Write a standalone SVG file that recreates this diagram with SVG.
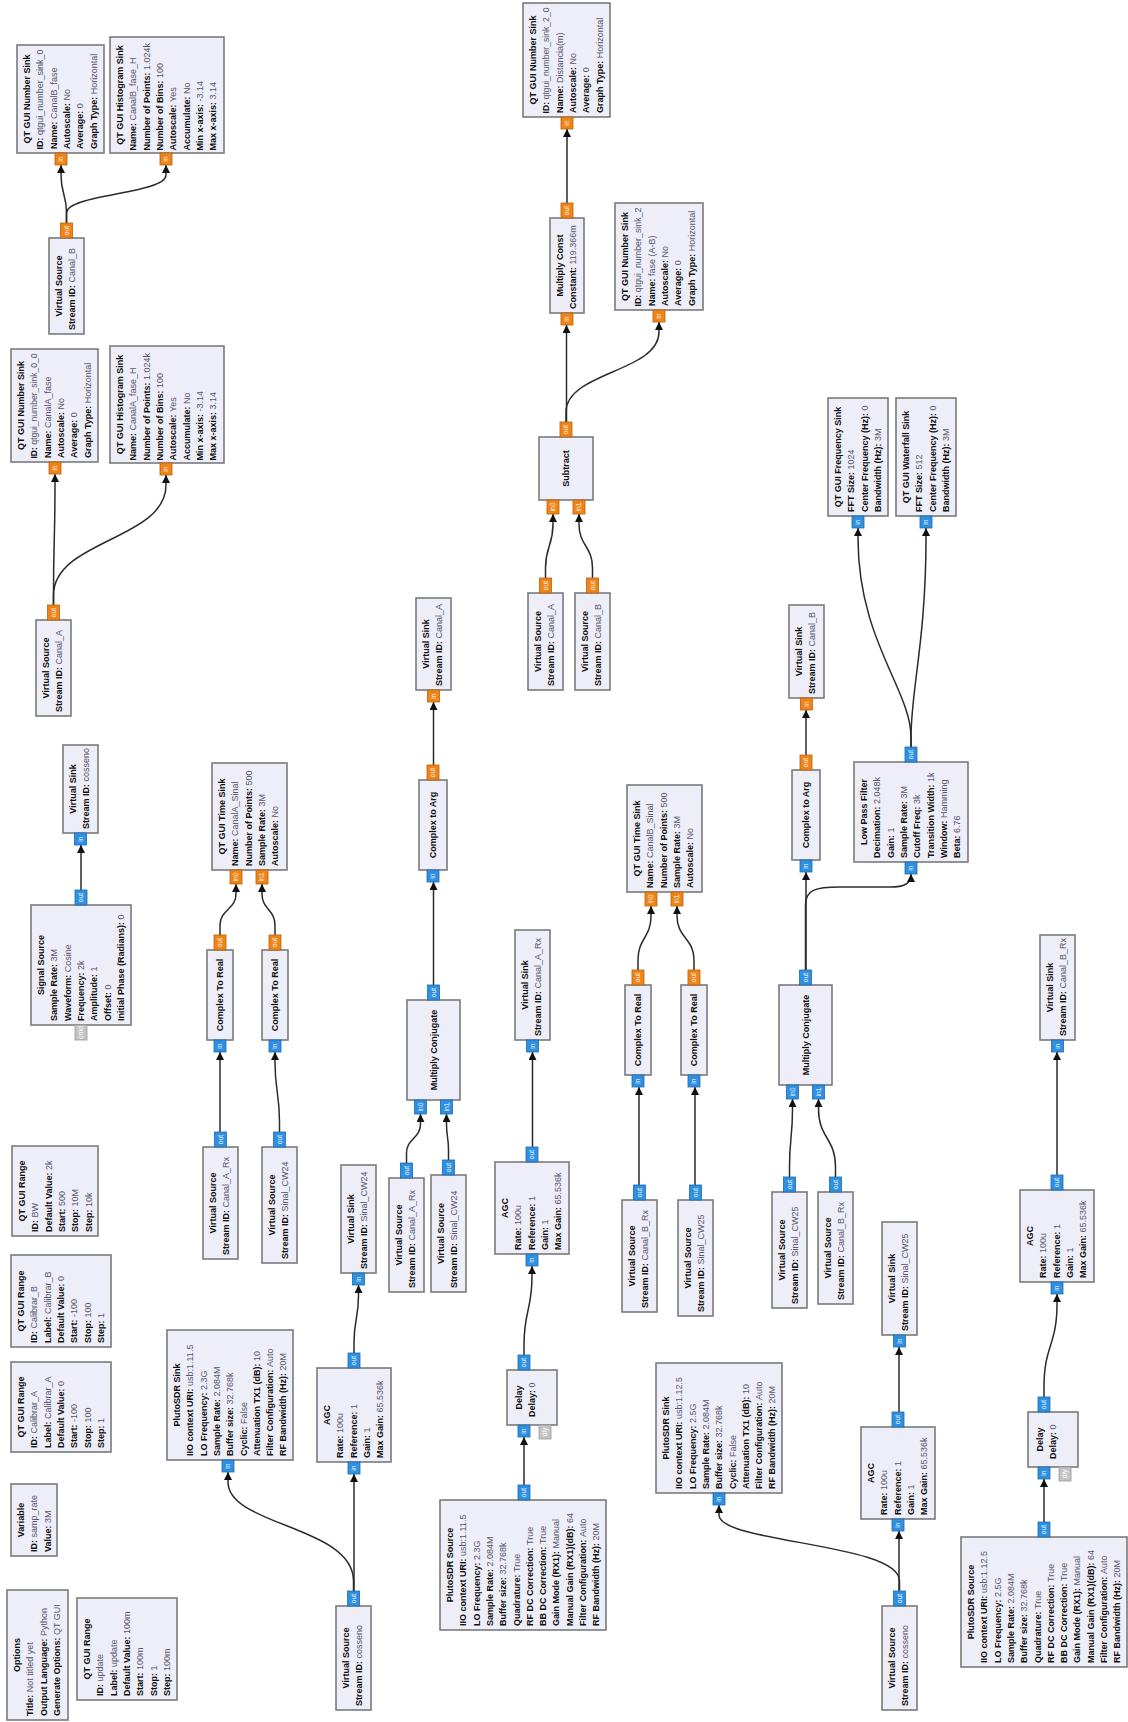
<svg xmlns="http://www.w3.org/2000/svg" width="1128" height="1722" viewBox="0 0 1128 1722">
<style>
.bx{fill:#EEEEF8;stroke:#7a7a7a;stroke-width:1.6}
.t{font-family:"Liberation Sans",Arial,sans-serif;font-size:9px;font-weight:bold;fill:#101010;text-anchor:middle}
.p{font-family:"Liberation Sans",Arial,sans-serif;font-size:9px;font-weight:bold;fill:#101010}
.v{font-weight:normal;fill:#55556e}
.pc{fill:#2F8FE0;stroke:#1d6cb0;stroke-width:0.8}
.pf{fill:#EF8418;stroke:#b8620c;stroke-width:0.8}
.pm{fill:#c4c4c4;stroke:#9a9a9a;stroke-width:0.8}
.pl{font-family:"Liberation Sans",Arial,sans-serif;font-size:6.8px;fill:#ffffff;text-anchor:middle}
.c{fill:none;stroke:#2b2b2b;stroke-width:1.5;marker-end:url(#ah)}
</style>
<defs>
<marker id="ah" viewBox="0 0 10 10" refX="10" refY="5" markerWidth="8" markerHeight="8" markerUnits="userSpaceOnUse" orient="auto"><path d="M0,0 L10,5 L0,10 z" fill="#111"/></marker>
</defs>
<rect width="1128" height="1722" fill="#ffffff"/>
<g id="connectors">
<path class="c" d="M66.5,223 V213 C66.5,194 61,194 61,175 V165"/>
<path class="c" d="M66.5,223 V213 C66.5,194 166,194 166,175 V165"/>
<path class="c" d="M53.5,605 V595 C53.5,540 55,540 55,484 V474"/>
<path class="c" d="M53.5,605 V595 C53.5,540 166,540 166,485 V475"/>
<path class="c" d="M81,890 V845"/>
<path class="c" d="M220,935 V925 C220,909.5 236,909.5 236,894 V884"/>
<path class="c" d="M275,935 V925 C275,909.5 262,909.5 262,894 V884"/>
<path class="c" d="M220,1132 V1052"/>
<path class="c" d="M279.5,1132 V1122 C279.5,1092 275,1092 275,1062 V1052"/>
<path class="c" d="M354,1591 V1474"/>
<path class="c" d="M353.5,1591 V1581 C353.5,1526 228,1526 228,1482 V1472"/>
<path class="c" d="M354,1353 V1343 C354,1319 358.5,1319 358.5,1295 V1285"/>
<path class="c" d="M406.5,1163 V1153 C406.5,1138.5 420.5,1138.5 420.5,1124 V1114"/>
<path class="c" d="M448.5,1160 V1150 C448.5,1137 446.5,1137 446.5,1124 V1114"/>
<path class="c" d="M433.5,985 V882"/>
<path class="c" d="M433.5,765 V702"/>
<path class="c" d="M524,1485 V1437"/>
<path class="c" d="M524,1355 V1345 C524,1310.5 532,1310.5 532,1276 V1266"/>
<path class="c" d="M532.5,1147 V1052"/>
<path class="c" d="M567,203 V129"/>
<path class="c" d="M566.5,422 V325"/>
<path class="c" d="M566,422 V412 C566,372 659,372 659,332 V322"/>
<path class="c" d="M545.5,578 V568 C545.5,546 553,546 553,524 V514"/>
<path class="c" d="M592.5,578 V568 C592.5,546 579,546 579,524 V514"/>
<path class="c" d="M911,747 V737 C911,690 858,640 858,538 V528"/>
<path class="c" d="M911,747 V737 C911,690 926,640 926,538 V528"/>
<path class="c" d="M806,970 V872"/>
<path class="c" d="M805.5,970 V905 C805.5,890 815,887 840,887 L890,887 C904,887 911,884 911,874"/>
<path class="c" d="M806,755 V710"/>
<path class="c" d="M638,970 V960 C638,938 651,938 651,916 V906"/>
<path class="c" d="M694,970 V960 C694,938 677,938 677,916 V906"/>
<path class="c" d="M639,1185 V1087"/>
<path class="c" d="M695,1185 V1087"/>
<path class="c" d="M789.5,1177 V1167 C789.5,1138 792.5,1138 792.5,1109 V1099"/>
<path class="c" d="M835.5,1177 V1167 C835.5,1138 818.5,1138 818.5,1109 V1099"/>
<path class="c" d="M1044,1522 V1479"/>
<path class="c" d="M1044,1397 V1387 C1044,1345.5 1057,1345.5 1057,1304 V1294"/>
<path class="c" d="M1057,1175 V1052"/>
<path class="c" d="M899,1591 V1531"/>
<path class="c" d="M899.5,1591 V1581 C899.5,1543 719,1543 719,1515 V1505"/>
<path class="c" d="M899,1412 V1347"/>
</g>
<g id="blocks">
<g id="ns_b" transform="translate(17,153) rotate(-90)">
<rect class="bx" width="108" height="87"/>
<text class="t" x="54" y="13">QT GUI Number Sink</text>
<text class="p" x="3.5" y="26.3" textLength="100" lengthAdjust="spacingAndGlyphs">ID: <tspan class="v">qtgui_number_sink_0</tspan></text>
<text class="p" x="4" y="39.6">Name: <tspan class="v">CanalB_fase</tspan></text>
<text class="p" x="4" y="52.9">Autoscale: <tspan class="v">No</tspan></text>
<text class="p" x="4" y="66.2">Average: <tspan class="v">0</tspan></text>
<text class="p" x="4" y="79.5">Graph Type: <tspan class="v">Horizontal</tspan></text>
<rect class="pf" x="-12" y="38" width="12" height="12"/><text class="pl" x="-6" y="46.3">in</text>
</g>
<g id="hs_b" transform="translate(110,153) rotate(-90)">
<rect class="bx" width="116" height="114"/>
<text class="t" x="58" y="13">QT GUI Histogram Sink</text>
<text class="p" x="2.5" y="26.3">Name: <tspan class="v">CanalB_fase_H</tspan></text>
<text class="p" x="2.5" y="39.6">Number of Points: <tspan class="v">1.024k</tspan></text>
<text class="p" x="2.5" y="52.9">Number of Bins: <tspan class="v">100</tspan></text>
<text class="p" x="2.5" y="66.2">Autoscale: <tspan class="v">Yes</tspan></text>
<text class="p" x="2.5" y="79.5">Accumulate: <tspan class="v">No</tspan></text>
<text class="p" x="2.5" y="92.8">Min x-axis: <tspan class="v">-3.14</tspan></text>
<text class="p" x="2.5" y="106.1">Max x-axis: <tspan class="v">3.14</tspan></text>
<rect class="pf" x="-12" y="50" width="12" height="12"/><text class="pl" x="-6" y="58.3">in</text>
</g>
<g id="vs_b1" transform="translate(49,334) rotate(-90)">
<rect class="bx" width="96" height="35"/>
<text class="t" x="48" y="13">Virtual Source</text>
<text class="p" x="4" y="26.3">Stream ID: <tspan class="v">Canal_B</tspan></text>
<rect class="pf" x="96" y="11.5" width="15" height="12"/><text class="pl" x="103.5" y="19.8">out</text>
</g>
<g id="ns_a" transform="translate(11,462) rotate(-90)">
<rect class="bx" width="113" height="87"/>
<text class="t" x="56.5" y="13">QT GUI Number Sink</text>
<text class="p" x="3.5" y="26.3" textLength="105" lengthAdjust="spacingAndGlyphs">ID: <tspan class="v">qtgui_number_sink_0_0</tspan></text>
<text class="p" x="4" y="39.6">Name: <tspan class="v">CanalA_fase</tspan></text>
<text class="p" x="4" y="52.9">Autoscale: <tspan class="v">No</tspan></text>
<text class="p" x="4" y="66.2">Average: <tspan class="v">0</tspan></text>
<text class="p" x="4" y="79.5">Graph Type: <tspan class="v">Horizontal</tspan></text>
<rect class="pf" x="-12" y="38" width="12" height="12"/><text class="pl" x="-6" y="46.3">in</text>
</g>
<g id="hs_a" transform="translate(110,463) rotate(-90)">
<rect class="bx" width="117" height="114"/>
<text class="t" x="58.5" y="13">QT GUI Histogram Sink</text>
<text class="p" x="2.5" y="26.3">Name: <tspan class="v">CanalA_fase_H</tspan></text>
<text class="p" x="2.5" y="39.6">Number of Points: <tspan class="v">1.024k</tspan></text>
<text class="p" x="2.5" y="52.9">Number of Bins: <tspan class="v">100</tspan></text>
<text class="p" x="2.5" y="66.2">Autoscale: <tspan class="v">Yes</tspan></text>
<text class="p" x="2.5" y="79.5">Accumulate: <tspan class="v">No</tspan></text>
<text class="p" x="2.5" y="92.8">Min x-axis: <tspan class="v">-3.14</tspan></text>
<text class="p" x="2.5" y="106.1">Max x-axis: <tspan class="v">3.14</tspan></text>
<rect class="pf" x="-12" y="50" width="12" height="12"/><text class="pl" x="-6" y="58.3">in</text>
</g>
<g id="vs_a1" transform="translate(36,716) rotate(-90)">
<rect class="bx" width="96" height="35"/>
<text class="t" x="48" y="13">Virtual Source</text>
<text class="p" x="4" y="26.3">Stream ID: <tspan class="v">Canal_A</tspan></text>
<rect class="pf" x="96" y="11.5" width="15" height="12"/><text class="pl" x="103.5" y="19.8">out</text>
</g>
<g id="vsink_cos" transform="translate(63,833) rotate(-90)">
<rect class="bx" width="88" height="35"/>
<text class="t" x="44" y="13">Virtual Sink</text>
<text class="p" x="4" y="26.3">Stream ID: <tspan class="v">cosseno</tspan></text>
<rect class="pc" x="-12" y="11.5" width="12" height="12"/><text class="pl" x="-6" y="19.8">in</text>
</g>
<g id="sigsrc" transform="translate(31,1025) rotate(-90)">
<rect class="bx" width="120" height="100"/>
<text class="t" x="60" y="13">Signal Source</text>
<text class="p" x="4" y="26.3">Sample Rate: <tspan class="v">3M</tspan></text>
<text class="p" x="4" y="39.6">Waveform: <tspan class="v">Cosine</tspan></text>
<text class="p" x="4" y="52.9">Frequency: <tspan class="v">2k</tspan></text>
<text class="p" x="4" y="66.2">Amplitude: <tspan class="v">1</tspan></text>
<text class="p" x="4" y="79.5">Offset: <tspan class="v">0</tspan></text>
<text class="p" x="4" y="92.8">Initial Phase (Radians): <tspan class="v">0</tspan></text>
<rect class="pc" x="120" y="44" width="15" height="12"/><text class="pl" x="127.5" y="52.3">out</text>
<rect class="pm" x="-15" y="44" width="15" height="12"/><text class="pl" x="-7.5" y="52.3">cmd</text>
</g>
<g id="range_bw" transform="translate(12,1236) rotate(-90)">
<rect class="bx" width="90" height="86"/>
<text class="t" x="45" y="13">QT GUI Range</text>
<text class="p" x="4" y="26.3">ID: <tspan class="v">BW</tspan></text>
<text class="p" x="4" y="39.6">Default Value: <tspan class="v">2k</tspan></text>
<text class="p" x="4" y="52.9">Start: <tspan class="v">500</tspan></text>
<text class="p" x="4" y="66.2">Stop: <tspan class="v">10M</tspan></text>
<text class="p" x="4" y="79.5">Step: <tspan class="v">10k</tspan></text>
</g>
<g id="range_cb" transform="translate(11,1347) rotate(-90)">
<rect class="bx" width="92" height="100"/>
<text class="t" x="46" y="13">QT GUI Range</text>
<text class="p" x="4" y="26.3">ID: <tspan class="v">Calibrar_B</tspan></text>
<text class="p" x="4" y="39.6">Label: <tspan class="v">Calibrar_B</tspan></text>
<text class="p" x="4" y="52.9">Default Value: <tspan class="v">0</tspan></text>
<text class="p" x="4" y="66.2">Start: <tspan class="v">-100</tspan></text>
<text class="p" x="4" y="79.5">Stop: <tspan class="v">100</tspan></text>
<text class="p" x="4" y="92.8">Step: <tspan class="v">1</tspan></text>
</g>
<g id="range_ca" transform="translate(11,1452) rotate(-90)">
<rect class="bx" width="90" height="100"/>
<text class="t" x="45" y="13">QT GUI Range</text>
<text class="p" x="4" y="26.3">ID: <tspan class="v">Calibrar_A</tspan></text>
<text class="p" x="4" y="39.6">Label: <tspan class="v">Calibrar_A</tspan></text>
<text class="p" x="4" y="52.9">Default Value: <tspan class="v">0</tspan></text>
<text class="p" x="4" y="66.2">Start: <tspan class="v">-100</tspan></text>
<text class="p" x="4" y="79.5">Stop: <tspan class="v">100</tspan></text>
<text class="p" x="4" y="92.8">Step: <tspan class="v">1</tspan></text>
</g>
<g id="variable" transform="translate(11,1556) rotate(-90)">
<rect class="bx" width="72" height="46"/>
<text class="t" x="36" y="13">Variable</text>
<text class="p" x="4" y="26.3">ID: <tspan class="v">samp_rate</tspan></text>
<text class="p" x="4" y="39.6">Value: <tspan class="v">3M</tspan></text>
</g>
<g id="options" transform="translate(7,1720) rotate(-90)">
<rect class="bx" width="130" height="61"/>
<text class="t" x="65" y="13">Options</text>
<text class="p" x="4" y="26.3">Title: <tspan class="v">Not titled yet</tspan></text>
<text class="p" x="4" y="39.6">Output Language: <tspan class="v">Python</tspan></text>
<text class="p" x="4" y="52.9">Generate Options: <tspan class="v">QT GUI</tspan></text>
</g>
<g id="range_up" transform="translate(77,1700) rotate(-90)">
<rect class="bx" width="102" height="100"/>
<text class="t" x="51" y="13">QT GUI Range</text>
<text class="p" x="4" y="26.3">ID: <tspan class="v">update</tspan></text>
<text class="p" x="4" y="39.6">Label: <tspan class="v">update</tspan></text>
<text class="p" x="4" y="52.9">Default Value: <tspan class="v">100m</tspan></text>
<text class="p" x="4" y="66.2">Start: <tspan class="v">100m</tspan></text>
<text class="p" x="4" y="79.5">Stop: <tspan class="v">1</tspan></text>
<text class="p" x="4" y="92.8">Step: <tspan class="v">100m</tspan></text>
</g>
<g id="ts_a" transform="translate(212,870) rotate(-90)">
<rect class="bx" width="107" height="75"/>
<text class="t" x="53.5" y="13">QT GUI Time Sink</text>
<text class="p" x="4" y="26.3">Name: <tspan class="v">CanalA_Sinal</tspan></text>
<text class="p" x="4" y="39.6">Number of Points: <tspan class="v">500</tspan></text>
<text class="p" x="4" y="52.9">Sample Rate: <tspan class="v">3M</tspan></text>
<text class="p" x="4" y="66.2">Autoscale: <tspan class="v">No</tspan></text>
<rect class="pf" x="-14" y="18" width="14" height="12"/><text class="pl" x="-7" y="26.3">in0</text>
<rect class="pf" x="-14" y="44" width="14" height="12"/><text class="pl" x="-7" y="52.3">in1</text>
</g>
<g id="ctr_a1" transform="translate(207,1040) rotate(-90)">
<rect class="bx" width="90" height="26"/>
<text class="t" x="45" y="16">Complex To Real</text>
<rect class="pc" x="-12" y="7" width="12" height="12"/><text class="pl" x="-6" y="15.3">in</text>
<rect class="pf" x="90" y="7" width="15" height="12"/><text class="pl" x="97.5" y="15.3">out</text>
</g>
<g id="ctr_a2" transform="translate(262,1040) rotate(-90)">
<rect class="bx" width="90" height="26"/>
<text class="t" x="45" y="16">Complex To Real</text>
<rect class="pc" x="-12" y="7" width="12" height="12"/><text class="pl" x="-6" y="15.3">in</text>
<rect class="pf" x="90" y="7" width="15" height="12"/><text class="pl" x="97.5" y="15.3">out</text>
</g>
<g id="vs_arx1" transform="translate(203,1259) rotate(-90)">
<rect class="bx" width="112" height="35"/>
<text class="t" x="56" y="13">Virtual Source</text>
<text class="p" x="4" y="26.3">Stream ID: <tspan class="v">Canal_A_Rx</tspan></text>
<rect class="pc" x="112" y="11.5" width="15" height="12"/><text class="pl" x="119.5" y="19.8">out</text>
</g>
<g id="vs_cw24_1" transform="translate(262,1263) rotate(-90)">
<rect class="bx" width="116" height="35"/>
<text class="t" x="58" y="13">Virtual Source</text>
<text class="p" x="4" y="26.3">Stream ID: <tspan class="v">Sinal_CW24</tspan></text>
<rect class="pc" x="116" y="11.5" width="15" height="12"/><text class="pl" x="123.5" y="19.8">out</text>
</g>
<g id="pluto_sink_a" transform="translate(167,1460) rotate(-90)">
<rect class="bx" width="130" height="126"/>
<text class="t" x="65" y="13">PlutoSDR Sink</text>
<text class="p" x="4" y="26.3">IIO context URI: <tspan class="v">usb:1.11.5</tspan></text>
<text class="p" x="4" y="39.6">LO Frequency: <tspan class="v">2.3G</tspan></text>
<text class="p" x="4" y="52.9">Sample Rate: <tspan class="v">2.084M</tspan></text>
<text class="p" x="4" y="66.2">Buffer size: <tspan class="v">32.768k</tspan></text>
<text class="p" x="4" y="79.5">Cyclic: <tspan class="v">False</tspan></text>
<text class="p" x="4" y="92.8">Attenuation TX1 (dB): <tspan class="v">10</tspan></text>
<text class="p" x="4" y="106.1">Filter Configuration: <tspan class="v">Auto</tspan></text>
<text class="p" x="4" y="119.4">RF Bandwidth (Hz): <tspan class="v">20M</tspan></text>
<rect class="pc" x="-12" y="55" width="12" height="12"/><text class="pl" x="-6" y="63.3">in</text>
</g>
<g id="vsink_cw24" transform="translate(341,1273) rotate(-90)">
<rect class="bx" width="108" height="35"/>
<text class="t" x="54" y="13">Virtual Sink</text>
<text class="p" x="4" y="26.3">Stream ID: <tspan class="v">Sinal_CW24</tspan></text>
<rect class="pc" x="-12" y="11.5" width="12" height="12"/><text class="pl" x="-6" y="19.8">in</text>
</g>
<g id="agc_a" transform="translate(317,1462) rotate(-90)">
<rect class="bx" width="94" height="74"/>
<text class="t" x="47" y="13">AGC</text>
<text class="p" x="4" y="26.3">Rate: <tspan class="v">100u</tspan></text>
<text class="p" x="4" y="39.6">Reference: <tspan class="v">1</tspan></text>
<text class="p" x="4" y="52.9">Gain: <tspan class="v">1</tspan></text>
<text class="p" x="4" y="66.2">Max Gain: <tspan class="v">65.536k</tspan></text>
<rect class="pc" x="-12" y="31" width="12" height="12"/><text class="pl" x="-6" y="39.3">in</text>
<rect class="pc" x="94" y="31" width="15" height="12"/><text class="pl" x="101.5" y="39.3">out</text>
</g>
<g id="vs_cos_a" transform="translate(336,1710) rotate(-90)">
<rect class="bx" width="104" height="35"/>
<text class="t" x="52" y="13">Virtual Source</text>
<text class="p" x="4" y="26.3">Stream ID: <tspan class="v">cosseno</tspan></text>
<rect class="pc" x="104" y="11.5" width="15" height="12"/><text class="pl" x="111.5" y="19.8">out</text>
</g>
<g id="vs_arx2" transform="translate(389,1292) rotate(-90)">
<rect class="bx" width="114" height="35"/>
<text class="t" x="57" y="13">Virtual Source</text>
<text class="p" x="4" y="26.3">Stream ID: <tspan class="v">Canal_A_Rx</tspan></text>
<rect class="pc" x="114" y="11.5" width="15" height="12"/><text class="pl" x="121.5" y="19.8">out</text>
</g>
<g id="vs_cw24_2" transform="translate(431,1292) rotate(-90)">
<rect class="bx" width="117" height="35"/>
<text class="t" x="58.5" y="13">Virtual Source</text>
<text class="p" x="4" y="26.3">Stream ID: <tspan class="v">Sinal_CW24</tspan></text>
<rect class="pc" x="117" y="11.5" width="15" height="12"/><text class="pl" x="124.5" y="19.8">out</text>
</g>
<g id="mc_a" transform="translate(407,1100) rotate(-90)">
<rect class="bx" width="100" height="53"/>
<text class="t" x="50" y="29.5">Multiply Conjugate</text>
<rect class="pc" x="-14" y="7.5" width="14" height="12"/><text class="pl" x="-7" y="15.8">in0</text>
<rect class="pc" x="-14" y="33.5" width="14" height="12"/><text class="pl" x="-7" y="41.8">in1</text>
<rect class="pc" x="100" y="20.5" width="15" height="12"/><text class="pl" x="107.5" y="28.8">out</text>
</g>
<g id="cta_a" transform="translate(419,870) rotate(-90)">
<rect class="bx" width="90" height="28"/>
<text class="t" x="45" y="17">Complex to Arg</text>
<rect class="pc" x="-12" y="8" width="12" height="12"/><text class="pl" x="-6" y="16.3">in</text>
<rect class="pf" x="90" y="8" width="15" height="12"/><text class="pl" x="97.5" y="16.3">out</text>
</g>
<g id="vsink_a" transform="translate(416,690) rotate(-90)">
<rect class="bx" width="92" height="35"/>
<text class="t" x="46" y="13">Virtual Sink</text>
<text class="p" x="4" y="26.3">Stream ID: <tspan class="v">Canal_A</tspan></text>
<rect class="pf" x="-12" y="11.5" width="12" height="12"/><text class="pl" x="-6" y="19.8">in</text>
</g>
<g id="vsink_arx" transform="translate(515,1040) rotate(-90)">
<rect class="bx" width="110" height="35"/>
<text class="t" x="55" y="13">Virtual Sink</text>
<text class="p" x="4" y="26.3">Stream ID: <tspan class="v">Canal_A_Rx</tspan></text>
<rect class="pc" x="-12" y="11.5" width="12" height="12"/><text class="pl" x="-6" y="19.8">in</text>
</g>
<g id="agc_arx" transform="translate(495,1254) rotate(-90)">
<rect class="bx" width="92" height="74"/>
<text class="t" x="46" y="13">AGC</text>
<text class="p" x="4" y="26.3">Rate: <tspan class="v">100u</tspan></text>
<text class="p" x="4" y="39.6">Reference: <tspan class="v">1</tspan></text>
<text class="p" x="4" y="52.9">Gain: <tspan class="v">1</tspan></text>
<text class="p" x="4" y="66.2">Max Gain: <tspan class="v">65.536k</tspan></text>
<rect class="pc" x="-12" y="31" width="12" height="12"/><text class="pl" x="-6" y="39.3">in</text>
<rect class="pc" x="92" y="31" width="15" height="12"/><text class="pl" x="99.5" y="39.3">out</text>
</g>
<g id="delay_a" transform="translate(507,1425) rotate(-90)">
<rect class="bx" width="55" height="50"/>
<text class="t" x="27.5" y="15">Delay</text>
<text class="p" x="8" y="28">Delay: <tspan class="v">0</tspan></text>
<rect class="pc" x="-12" y="11" width="12" height="12"/><text class="pl" x="-6" y="19.3">in</text>
<rect class="pm" x="-14" y="32" width="14" height="12"/><text class="pl" x="-7" y="40.3">dly</text>
<rect class="pc" x="55" y="11" width="15" height="12"/><text class="pl" x="62.5" y="19.3">out</text>
</g>
<g id="pluto_src_a" transform="translate(440,1630) rotate(-90)">
<rect class="bx" width="130" height="166"/>
<text class="t" x="65" y="13">PlutoSDR Source</text>
<text class="p" x="4" y="26.3">IIO context URI: <tspan class="v">usb:1.11.5</tspan></text>
<text class="p" x="4" y="39.6">LO Frequency: <tspan class="v">2.3G</tspan></text>
<text class="p" x="4" y="52.9">Sample Rate: <tspan class="v">2.084M</tspan></text>
<text class="p" x="4" y="66.2">Buffer size: <tspan class="v">32.768k</tspan></text>
<text class="p" x="4" y="79.5">Quadrature: <tspan class="v">True</tspan></text>
<text class="p" x="4" y="92.8">RF DC Correction: <tspan class="v">True</tspan></text>
<text class="p" x="4" y="106.1">BB DC Correction: <tspan class="v">True</tspan></text>
<text class="p" x="4" y="119.4">Gain Mode (RX1): <tspan class="v">Manual</tspan></text>
<text class="p" x="4" y="132.7">Manual Gain (RX1)(dB): <tspan class="v">64</tspan></text>
<text class="p" x="4" y="146">Filter Configuration: <tspan class="v">Auto</tspan></text>
<text class="p" x="4" y="159.3">RF Bandwidth (Hz): <tspan class="v">20M</tspan></text>
<rect class="pc" x="130" y="78" width="15" height="12"/><text class="pl" x="137.5" y="86.3">out</text>
</g>
<g id="ns_2_0" transform="translate(523,117) rotate(-90)">
<rect class="bx" width="114" height="87"/>
<text class="t" x="57" y="13">QT GUI Number Sink</text>
<text class="p" x="3.5" y="26.3" textLength="106" lengthAdjust="spacingAndGlyphs">ID: <tspan class="v">qtgui_number_sink_2_0</tspan></text>
<text class="p" x="4" y="39.6">Name: <tspan class="v">Distancia(m)</tspan></text>
<text class="p" x="4" y="52.9">Autoscale: <tspan class="v">No</tspan></text>
<text class="p" x="4" y="66.2">Average: <tspan class="v">0</tspan></text>
<text class="p" x="4" y="79.5">Graph Type: <tspan class="v">Horizontal</tspan></text>
<rect class="pf" x="-12" y="38" width="12" height="12"/><text class="pl" x="-6" y="46.3">in</text>
</g>
<g id="mconst" transform="translate(550,313) rotate(-90)">
<rect class="bx" width="95" height="34"/>
<text class="t" x="47.5" y="13">Multiply Const</text>
<text class="p" x="4" y="26.3">Constant: <tspan class="v">119.366m</tspan></text>
<rect class="pf" x="-12" y="11" width="12" height="12"/><text class="pl" x="-6" y="19.3">in</text>
<rect class="pf" x="95" y="11" width="15" height="12"/><text class="pl" x="102.5" y="19.3">out</text>
</g>
<g id="ns_2" transform="translate(615,310) rotate(-90)">
<rect class="bx" width="107" height="88"/>
<text class="t" x="53.5" y="13">QT GUI Number Sink</text>
<text class="p" x="3.5" y="26.3" textLength="99" lengthAdjust="spacingAndGlyphs">ID: <tspan class="v">qtgui_number_sink_2</tspan></text>
<text class="p" x="4" y="39.6">Name: <tspan class="v">fase (A-B)</tspan></text>
<text class="p" x="4" y="52.9">Autoscale: <tspan class="v">No</tspan></text>
<text class="p" x="4" y="66.2">Average: <tspan class="v">0</tspan></text>
<text class="p" x="4" y="79.5">Graph Type: <tspan class="v">Horizontal</tspan></text>
<rect class="pf" x="-12" y="38" width="12" height="12"/><text class="pl" x="-6" y="46.3">in</text>
</g>
<g id="subtract" transform="translate(539,500) rotate(-90)">
<rect class="bx" width="63" height="54"/>
<text class="t" x="31.5" y="30">Subtract</text>
<rect class="pf" x="-14" y="8" width="14" height="12"/><text class="pl" x="-7" y="16.3">in0</text>
<rect class="pf" x="-14" y="34" width="14" height="12"/><text class="pl" x="-7" y="42.3">in1</text>
<rect class="pf" x="63" y="21" width="15" height="12"/><text class="pl" x="70.5" y="29.3">out</text>
</g>
<g id="vs_a2" transform="translate(528,690) rotate(-90)">
<rect class="bx" width="97" height="35"/>
<text class="t" x="48.5" y="13">Virtual Source</text>
<text class="p" x="4" y="26.3">Stream ID: <tspan class="v">Canal_A</tspan></text>
<rect class="pf" x="97" y="11.5" width="15" height="12"/><text class="pl" x="104.5" y="19.8">out</text>
</g>
<g id="vs_b2" transform="translate(575,690) rotate(-90)">
<rect class="bx" width="97" height="35"/>
<text class="t" x="48.5" y="13">Virtual Source</text>
<text class="p" x="4" y="26.3">Stream ID: <tspan class="v">Canal_B</tspan></text>
<rect class="pf" x="97" y="11.5" width="15" height="12"/><text class="pl" x="104.5" y="19.8">out</text>
</g>
<g id="freq" transform="translate(828,516) rotate(-90)">
<rect class="bx" width="118" height="60"/>
<text class="t" x="59" y="13">QT GUI Frequency Sink</text>
<text class="p" x="4" y="26.3">FFT Size: <tspan class="v">1024</tspan></text>
<text class="p" x="4" y="39.6">Center Frequency (Hz): <tspan class="v">0</tspan></text>
<text class="p" x="4" y="52.9">Bandwidth (Hz): <tspan class="v">3M</tspan></text>
<rect class="pc" x="-12" y="24" width="12" height="12"/><text class="pl" x="-6" y="32.3">in</text>
</g>
<g id="waterfall" transform="translate(896,516) rotate(-90)">
<rect class="bx" width="118" height="60"/>
<text class="t" x="59" y="13">QT GUI Waterfall Sink</text>
<text class="p" x="4" y="26.3">FFT Size: <tspan class="v">512</tspan></text>
<text class="p" x="4" y="39.6">Center Frequency (Hz): <tspan class="v">0</tspan></text>
<text class="p" x="4" y="52.9">Bandwidth (Hz): <tspan class="v">3M</tspan></text>
<rect class="pc" x="-12" y="24" width="12" height="12"/><text class="pl" x="-6" y="32.3">in</text>
</g>
<g id="lpf" transform="translate(854,862) rotate(-90)">
<rect class="bx" width="100" height="114"/>
<text class="t" x="50" y="13">Low Pass Filter</text>
<text class="p" x="4" y="26.3">Decimation: <tspan class="v">2.048k</tspan></text>
<text class="p" x="4" y="39.6">Gain: <tspan class="v">1</tspan></text>
<text class="p" x="4" y="52.9">Sample Rate: <tspan class="v">3M</tspan></text>
<text class="p" x="4" y="66.2">Cutoff Freq: <tspan class="v">3k</tspan></text>
<text class="p" x="4" y="79.5">Transition Width: <tspan class="v">1k</tspan></text>
<text class="p" x="4" y="92.8">Window: <tspan class="v">Hamming</tspan></text>
<text class="p" x="4" y="106.1">Beta: <tspan class="v">6.76</tspan></text>
<rect class="pc" x="-12" y="51" width="12" height="12"/><text class="pl" x="-6" y="59.3">in</text>
<rect class="pc" x="100" y="51" width="15" height="12"/><text class="pl" x="107.5" y="59.3">out</text>
</g>
<g id="vsink_b" transform="translate(789,698) rotate(-90)">
<rect class="bx" width="93" height="35"/>
<text class="t" x="46.5" y="13">Virtual Sink</text>
<text class="p" x="4" y="26.3">Stream ID: <tspan class="v">Canal_B</tspan></text>
<rect class="pf" x="-12" y="11.5" width="12" height="12"/><text class="pl" x="-6" y="19.8">in</text>
</g>
<g id="cta_b" transform="translate(792,860) rotate(-90)">
<rect class="bx" width="90" height="28"/>
<text class="t" x="45" y="17">Complex to Arg</text>
<rect class="pc" x="-12" y="8" width="12" height="12"/><text class="pl" x="-6" y="16.3">in</text>
<rect class="pf" x="90" y="8" width="15" height="12"/><text class="pl" x="97.5" y="16.3">out</text>
</g>
<g id="mc_b" transform="translate(779,1085) rotate(-90)">
<rect class="bx" width="100" height="53"/>
<text class="t" x="50" y="29.5">Multiply Conjugate</text>
<rect class="pc" x="-14" y="7.5" width="14" height="12"/><text class="pl" x="-7" y="15.8">in0</text>
<rect class="pc" x="-14" y="33.5" width="14" height="12"/><text class="pl" x="-7" y="41.8">in1</text>
<rect class="pc" x="100" y="20.5" width="15" height="12"/><text class="pl" x="107.5" y="28.8">out</text>
</g>
<g id="ts_b" transform="translate(627,892) rotate(-90)">
<rect class="bx" width="107" height="75"/>
<text class="t" x="53.5" y="13">QT GUI Time Sink</text>
<text class="p" x="4" y="26.3">Name: <tspan class="v">CanalB_Sinal</tspan></text>
<text class="p" x="4" y="39.6">Number of Points: <tspan class="v">500</tspan></text>
<text class="p" x="4" y="52.9">Sample Rate: <tspan class="v">3M</tspan></text>
<text class="p" x="4" y="66.2">Autoscale: <tspan class="v">No</tspan></text>
<rect class="pf" x="-14" y="18" width="14" height="12"/><text class="pl" x="-7" y="26.3">in0</text>
<rect class="pf" x="-14" y="44" width="14" height="12"/><text class="pl" x="-7" y="52.3">in1</text>
</g>
<g id="ctr_b1" transform="translate(625,1075) rotate(-90)">
<rect class="bx" width="90" height="26"/>
<text class="t" x="45" y="16">Complex To Real</text>
<rect class="pc" x="-12" y="7" width="12" height="12"/><text class="pl" x="-6" y="15.3">in</text>
<rect class="pf" x="90" y="7" width="15" height="12"/><text class="pl" x="97.5" y="15.3">out</text>
</g>
<g id="ctr_b2" transform="translate(681,1075) rotate(-90)">
<rect class="bx" width="90" height="26"/>
<text class="t" x="45" y="16">Complex To Real</text>
<rect class="pc" x="-12" y="7" width="12" height="12"/><text class="pl" x="-6" y="15.3">in</text>
<rect class="pf" x="90" y="7" width="15" height="12"/><text class="pl" x="97.5" y="15.3">out</text>
</g>
<g id="vs_brx1" transform="translate(622,1312) rotate(-90)">
<rect class="bx" width="112" height="35"/>
<text class="t" x="56" y="13">Virtual Source</text>
<text class="p" x="4" y="26.3">Stream ID: <tspan class="v">Canal_B_Rx</tspan></text>
<rect class="pc" x="112" y="11.5" width="15" height="12"/><text class="pl" x="119.5" y="19.8">out</text>
</g>
<g id="vs_cw25_1" transform="translate(678,1316) rotate(-90)">
<rect class="bx" width="116" height="35"/>
<text class="t" x="58" y="13">Virtual Source</text>
<text class="p" x="4" y="26.3">Stream ID: <tspan class="v">Sinal_CW25</tspan></text>
<rect class="pc" x="116" y="11.5" width="15" height="12"/><text class="pl" x="123.5" y="19.8">out</text>
</g>
<g id="vs_cw25_2" transform="translate(772,1308) rotate(-90)">
<rect class="bx" width="116" height="35"/>
<text class="t" x="58" y="13">Virtual Source</text>
<text class="p" x="4" y="26.3">Stream ID: <tspan class="v">Sinal_CW25</tspan></text>
<rect class="pc" x="116" y="11.5" width="15" height="12"/><text class="pl" x="123.5" y="19.8">out</text>
</g>
<g id="vs_brx2" transform="translate(818,1304) rotate(-90)">
<rect class="bx" width="112" height="35"/>
<text class="t" x="56" y="13">Virtual Source</text>
<text class="p" x="4" y="26.3">Stream ID: <tspan class="v">Canal_B_Rx</tspan></text>
<rect class="pc" x="112" y="11.5" width="15" height="12"/><text class="pl" x="119.5" y="19.8">out</text>
</g>
<g id="vsink_brx" transform="translate(1040,1040) rotate(-90)">
<rect class="bx" width="105" height="35"/>
<text class="t" x="52.5" y="13">Virtual Sink</text>
<text class="p" x="4" y="26.3">Stream ID: <tspan class="v">Canal_B_Rx</tspan></text>
<rect class="pc" x="-12" y="11.5" width="12" height="12"/><text class="pl" x="-6" y="19.8">in</text>
</g>
<g id="agc_brx" transform="translate(1020,1282) rotate(-90)">
<rect class="bx" width="92" height="74"/>
<text class="t" x="46" y="13">AGC</text>
<text class="p" x="4" y="26.3">Rate: <tspan class="v">100u</tspan></text>
<text class="p" x="4" y="39.6">Reference: <tspan class="v">1</tspan></text>
<text class="p" x="4" y="52.9">Gain: <tspan class="v">1</tspan></text>
<text class="p" x="4" y="66.2">Max Gain: <tspan class="v">65.536k</tspan></text>
<rect class="pc" x="-12" y="31" width="12" height="12"/><text class="pl" x="-6" y="39.3">in</text>
<rect class="pc" x="92" y="31" width="15" height="12"/><text class="pl" x="99.5" y="39.3">out</text>
</g>
<g id="delay_b" transform="translate(1028,1467) rotate(-90)">
<rect class="bx" width="55" height="50"/>
<text class="t" x="27.5" y="15">Delay</text>
<text class="p" x="8" y="28">Delay: <tspan class="v">0</tspan></text>
<rect class="pc" x="-12" y="10" width="12" height="12"/><text class="pl" x="-6" y="18.3">in</text>
<rect class="pm" x="-14" y="31" width="14" height="12"/><text class="pl" x="-7" y="39.3">dly</text>
<rect class="pc" x="55" y="10" width="15" height="12"/><text class="pl" x="62.5" y="18.3">out</text>
</g>
<g id="pluto_src_b" transform="translate(961,1667) rotate(-90)">
<rect class="bx" width="130" height="166"/>
<text class="t" x="65" y="13">PlutoSDR Source</text>
<text class="p" x="4" y="26.3">IIO context URI: <tspan class="v">usb:1.12.5</tspan></text>
<text class="p" x="4" y="39.6">LO Frequency: <tspan class="v">2.5G</tspan></text>
<text class="p" x="4" y="52.9">Sample Rate: <tspan class="v">2.084M</tspan></text>
<text class="p" x="4" y="66.2">Buffer size: <tspan class="v">32.768k</tspan></text>
<text class="p" x="4" y="79.5">Quadrature: <tspan class="v">True</tspan></text>
<text class="p" x="4" y="92.8">RF DC Correction: <tspan class="v">True</tspan></text>
<text class="p" x="4" y="106.1">BB DC Correction: <tspan class="v">True</tspan></text>
<text class="p" x="4" y="119.4">Gain Mode (RX1): <tspan class="v">Manual</tspan></text>
<text class="p" x="4" y="132.7">Manual Gain (RX1)(dB): <tspan class="v">64</tspan></text>
<text class="p" x="4" y="146">Filter Configuration: <tspan class="v">Auto</tspan></text>
<text class="p" x="4" y="159.3">RF Bandwidth (Hz): <tspan class="v">20M</tspan></text>
<rect class="pc" x="130" y="77" width="15" height="12"/><text class="pl" x="137.5" y="85.3">out</text>
</g>
<g id="pluto_sink_b" transform="translate(656,1493) rotate(-90)">
<rect class="bx" width="130" height="126"/>
<text class="t" x="65" y="13">PlutoSDR Sink</text>
<text class="p" x="4" y="26.3">IIO context URI: <tspan class="v">usb:1.12.5</tspan></text>
<text class="p" x="4" y="39.6">LO Frequency: <tspan class="v">2.5G</tspan></text>
<text class="p" x="4" y="52.9">Sample Rate: <tspan class="v">2.084M</tspan></text>
<text class="p" x="4" y="66.2">Buffer size: <tspan class="v">32.768k</tspan></text>
<text class="p" x="4" y="79.5">Cyclic: <tspan class="v">False</tspan></text>
<text class="p" x="4" y="92.8">Attenuation TX1 (dB): <tspan class="v">10</tspan></text>
<text class="p" x="4" y="106.1">Filter Configuration: <tspan class="v">Auto</tspan></text>
<text class="p" x="4" y="119.4">RF Bandwidth (Hz): <tspan class="v">20M</tspan></text>
<rect class="pc" x="-12" y="57" width="12" height="12"/><text class="pl" x="-6" y="65.3">in</text>
</g>
<g id="vsink_cw25" transform="translate(882,1335) rotate(-90)">
<rect class="bx" width="113" height="35"/>
<text class="t" x="56.5" y="13">Virtual Sink</text>
<text class="p" x="4" y="26.3">Stream ID: <tspan class="v">Sinal_CW25</tspan></text>
<rect class="pc" x="-12" y="11.5" width="12" height="12"/><text class="pl" x="-6" y="19.8">in</text>
</g>
<g id="agc_b" transform="translate(861,1519) rotate(-90)">
<rect class="bx" width="92" height="74"/>
<text class="t" x="46" y="13">AGC</text>
<text class="p" x="4" y="26.3">Rate: <tspan class="v">100u</tspan></text>
<text class="p" x="4" y="39.6">Reference: <tspan class="v">1</tspan></text>
<text class="p" x="4" y="52.9">Gain: <tspan class="v">1</tspan></text>
<text class="p" x="4" y="66.2">Max Gain: <tspan class="v">65.536k</tspan></text>
<rect class="pc" x="-12" y="31" width="12" height="12"/><text class="pl" x="-6" y="39.3">in</text>
<rect class="pc" x="92" y="31" width="15" height="12"/><text class="pl" x="99.5" y="39.3">out</text>
</g>
<g id="vs_cos_b" transform="translate(882,1710) rotate(-90)">
<rect class="bx" width="104" height="35"/>
<text class="t" x="52" y="13">Virtual Source</text>
<text class="p" x="4" y="26.3">Stream ID: <tspan class="v">cosseno</tspan></text>
<rect class="pc" x="104" y="11.5" width="15" height="12"/><text class="pl" x="111.5" y="19.8">out</text>
</g>
</g>
</svg>
